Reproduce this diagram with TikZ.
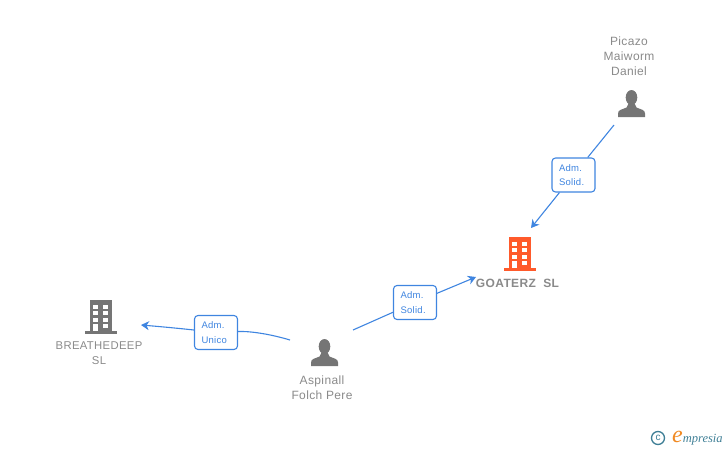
\documentclass[tikz,border=0pt]{standalone}
\usepackage{fontspec}
\setmainfont{Liberation Sans}
\newfontfamily\namefont[LetterSpace=3]{Liberation Sans}
\newfontfamily\rolefont[LetterSpace=3]{Liberation Sans}
\newfontfamily\logofont{Liberation Serif}
\usetikzlibrary{positioning, arrows.meta}
\definecolor{linkblue}{HTML}{3F85E0}
\definecolor{icongray}{HTML}{757575}
\definecolor{textgray}{HTML}{8A8A8A}
\definecolor{firmorange}{HTML}{FF5A2B}
\definecolor{logoteal}{HTML}{3F7F96}
\definecolor{logoorange}{HTML}{F08A24}
\tikzset{
    x=1pt, y=-1pt,
    namelabel/.style={text=textgray, font=\namefont\fontsize{12}{15}\selectfont, align=center, inner sep=0pt},
    rolebox/.style={draw=linkblue, fill=white, line width=1.1pt, rounded corners=3.5pt, text=linkblue,
        font=\rolefont\fontsize{9.5}{15}\selectfont, align=left, text width=29pt, minimum width=43pt, minimum height=34pt, inner sep=0pt},
    link/.style={draw=linkblue, line width=1.1pt},
    linkarrow/.style={link, -{Stealth[length=8pt,width=9pt,inset=2.5pt]}},
    person/.pic={
        \fill[icongray] (0,-6) ellipse (5.8 and 7.5);
        \fill[icongray] (-13.5,13.5) -- (-13.5,10) .. controls (-13.5,6) and (-9,6) .. (-5,4)
            -- (-3,0) -- (3,0) -- (5,4) .. controls (9,6) and (13.5,6) .. (13.5,10) -- (13.5,13.5) -- cycle;
    },
    pics/firm/.style={code={
        \fill[#1] (-11,-17) rectangle (11,14);
        \fill[#1] (-16,14) rectangle (16,17);
        \foreach \wy in {-12.5,-6,0.5}{
            \fill[white] (-7.5,\wy) rectangle (-2.5,\wy+4);
            \fill[white] (2.5,\wy) rectangle (7.5,\wy+4);
        }
        \fill[white] (-7.5,7) rectangle (-2.5,14);
        \fill[white] (2.5,7) rectangle (7.5,11);
    }}
}
\begin{document}
\begin{tikzpicture}
    \useasboundingbox (0,0) rectangle (728,450);

    %Icons
    \pic at (631.5,103.5) {person};
    \pic at (324.5,352.5) {person};
    \pic at (519.5,254) {firm=firmorange};
    \pic at (100.5,317) {firm=icongray};

    %Nodes
    \node[namelabel] at (629,56) (picazo) {Picazo\\Maiworm\\Daniel};
    \node[namelabel, font=\namefont\fontsize{12}{15}\selectfont\bfseries] at (517.5,283) (goaterz) {GOATERZ\ \ SL};
    \node[namelabel, font=\namefont\fontsize{11.3}{15}\selectfont] at (99,353.5) (breathedeep) {BREATHEDEEP\\SL};
    \node[namelabel] at (322,387.5) (aspinall) {Aspinall\\Folch Pere};

    \node[rolebox] at (573.5,175) (solidtop) {Adm.\\[-0.5pt]Solid.};
    \node[rolebox] at (415,302.5) (solidlow) {Adm.\\[-0.5pt]Solid.};
    \node[rolebox] at (216,332.5) (unico) {Adm.\\[-0.5pt]Unico};

    \coordinate (picazoend) at (614,125);
    \coordinate (goaterztop) at (531,228);
    \coordinate (aspinallright) at (353,330);
    \coordinate (goaterzleft) at (476,277);
    \coordinate (aspinallleft) at (290,340);
    \coordinate (breathedeepright) at (141,325);

    %Lines
    \draw[link] (picazoend) -- (solidtop);
    \draw[linkarrow] (solidtop) -- (goaterztop);
    \draw[link] (aspinallright) -- (solidlow);
    \draw[linkarrow] (solidlow) -- (goaterzleft);
    \draw[link] (aspinallleft) .. controls (270,334) and (250,331) .. (unico);
    \draw[linkarrow] (unico) .. controls (185,329) and (165,327) .. (breathedeepright);

    %Logo
    \node[draw=logoteal, line width=1.3pt, circle, minimum size=13pt, inner sep=0pt, text=logoteal,
        font=\fontsize{10}{10}\selectfont] at (658,438) (logoc) {c};
    \node[anchor=base west, inner sep=0pt, text=logoteal, font=\fontsize{12.5}{15}\logofont\itshape\selectfont] at (672,442) (logotext)
        {\textcolor{logoorange}{\fontsize{24}{24}\selectfont e}mpresia};
\end{tikzpicture}
\end{document}
